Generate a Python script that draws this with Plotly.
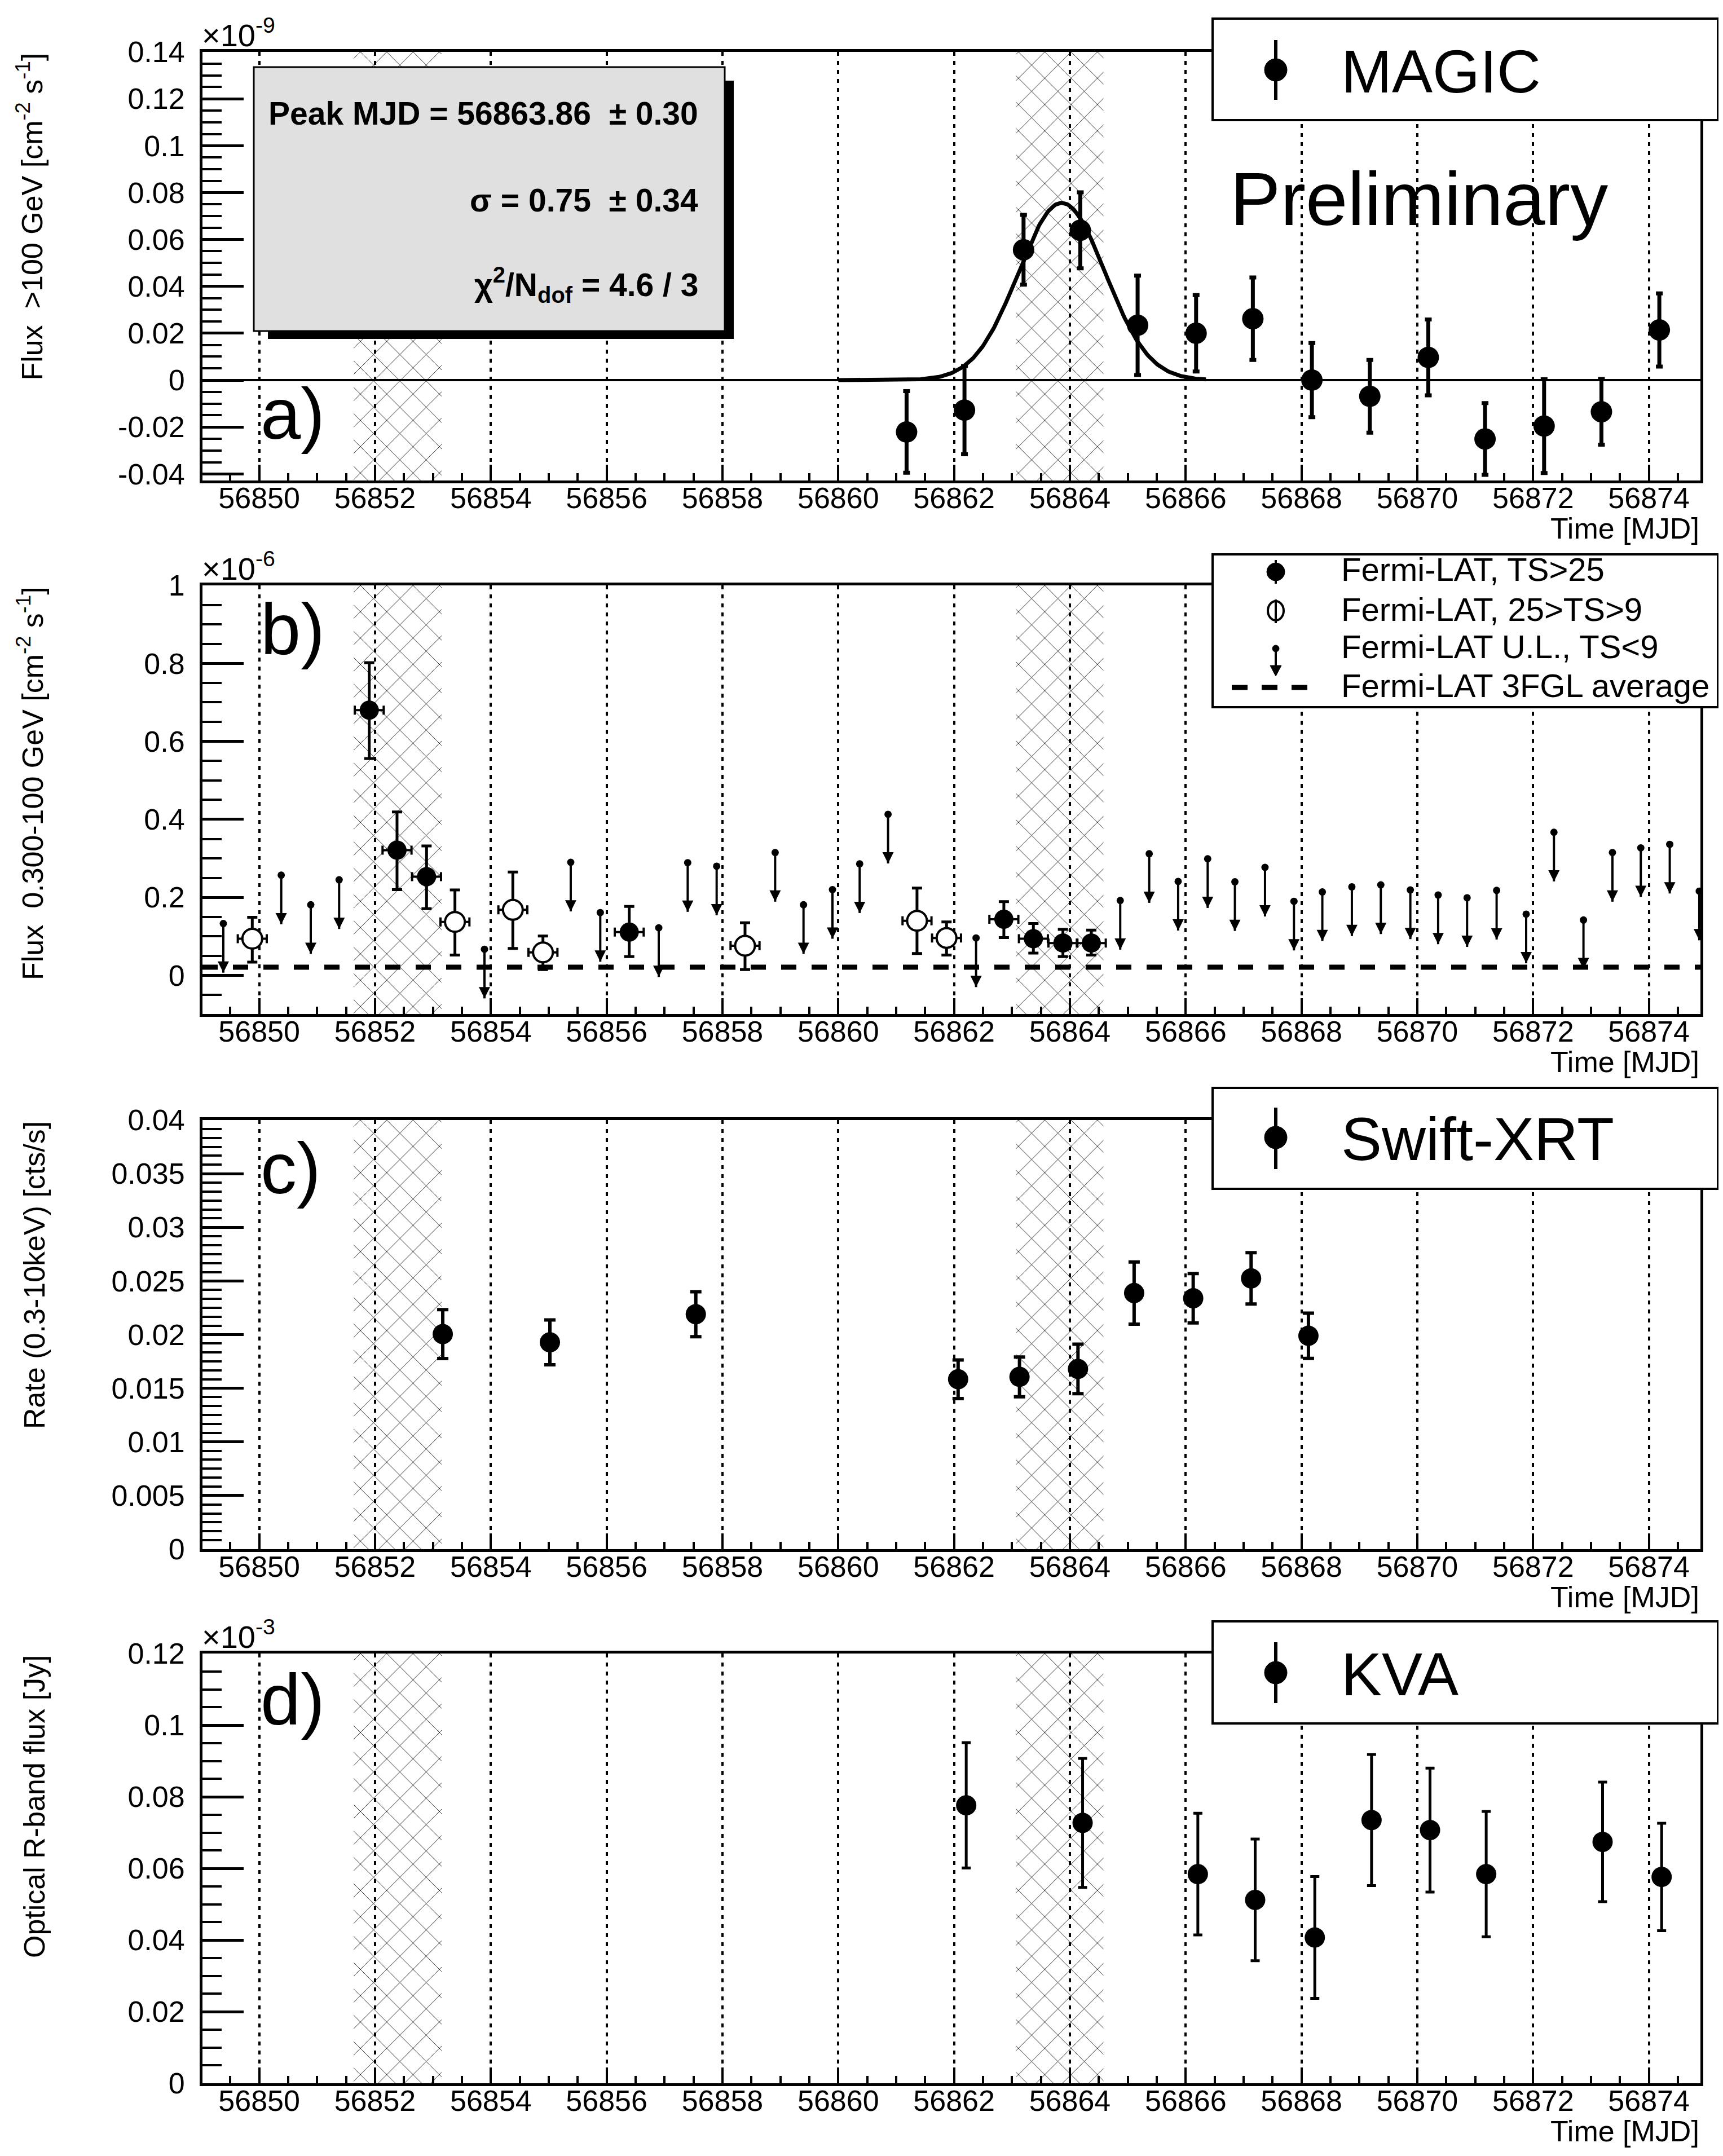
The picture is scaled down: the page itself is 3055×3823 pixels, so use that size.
import numpy as np
import plotly.graph_objects as go

W, H = 3055, 3823
FONT = "Liberation Sans, Arial, Helvetica, sans-serif"

# ---------------- data ----------------
x_range = [56849.02, 56874.89]
x_tick0, x_dtick, x_minor = 56850, 2, 0.5
hatch_bands = [[56851.63, 56853.15], [56863.07, 56864.58]]

# a) MAGIC flux >100 GeV (x 1e-9 cm^-2 s^-1)
magic_mjd = [56861.18, 56862.18, 56863.20, 56864.18, 56865.17, 56866.18, 56867.16,
             56868.18, 56869.18, 56870.19, 56871.17, 56872.19, 56873.18, 56874.18]
magic_flux = [-0.0221, -0.0128, 0.0556, 0.0639, 0.0234, 0.0200, 0.0262,
              0.0000, -0.0069, 0.0097, -0.0251, -0.0196, -0.0135, 0.0214]
magic_err = [0.0174, 0.0188, 0.0149, 0.0162, 0.0212, 0.0163, 0.0176,
             0.0158, 0.0155, 0.0162, 0.0153, 0.0200, 0.0140, 0.0156]
fit_peak, fit_sigma, fit_amp = 56863.86, 0.75, 0.0756
fit_span = [56860.0, 56866.35]

# b) Fermi-LAT flux 0.3-100 GeV (x 1e-6 cm^-2 s^-1)
fermi_halfbin = 0.25
fermi_det_mjd = [56851.90, 56852.38, 56852.89, 56856.39, 56862.86, 56863.37, 56863.88, 56864.37]
fermi_det_flux = [0.680, 0.321, 0.253, 0.111, 0.144, 0.094, 0.083, 0.083]
fermi_det_hi = [0.122, 0.098, 0.079, 0.066, 0.045, 0.039, 0.035, 0.033]
fermi_det_lo = [0.124, 0.101, 0.082, 0.063, 0.047, 0.037, 0.035, 0.031]

fermi_weak_mjd = [56849.88, 56853.38, 56854.38, 56854.90, 56858.39, 56861.36, 56861.87]
fermi_weak_flux = [0.094, 0.137, 0.168, 0.059, 0.076, 0.140, 0.096]
fermi_weak_hi = [0.055, 0.082, 0.097, 0.042, 0.059, 0.084, 0.041]
fermi_weak_lo = [0.060, 0.085, 0.099, 0.044, 0.061, 0.084, 0.044]

fermi_ul_mjd = [56849.38, 56850.38, 56850.89, 56851.38, 56853.89, 56855.38, 56855.89,
                56856.90, 56857.40, 56857.90, 56858.91, 56859.40, 56859.90, 56860.37,
                56860.86, 56862.38, 56864.87, 56865.37, 56865.87, 56866.38, 56866.85,
                56867.37, 56867.87, 56868.36, 56868.87, 56869.37, 56869.88, 56870.36,
                56870.86, 56871.37, 56871.88, 56872.36, 56872.87, 56873.37, 56873.86,
                56874.36, 56874.87]
fermi_ul = [0.133, 0.257, 0.181, 0.245, 0.067, 0.290, 0.161,
            0.122, 0.289, 0.280, 0.315, 0.181, 0.220, 0.286,
            0.413, 0.096, 0.192, 0.312, 0.241, 0.299, 0.240,
            0.277, 0.190, 0.214, 0.227, 0.232, 0.219, 0.206,
            0.199, 0.218, 0.157, 0.367, 0.142, 0.315, 0.327,
            0.336, 0.216]
ul_arrow_len = 0.126
fermi_3fgl = 0.021

# c) Swift-XRT rate 0.3-10 keV
xrt_mjd = [56853.17, 56855.02, 56857.54, 56862.07, 56863.13, 56864.14, 56865.11, 56866.13, 56867.13, 56868.12]
xrt_rate = [0.02005, 0.01928, 0.02190, 0.01584, 0.01606, 0.01680, 0.02387, 0.02339, 0.02524, 0.01989]
xrt_err = [0.00228, 0.00209, 0.00210, 0.00180, 0.00185, 0.00231, 0.00290, 0.00230, 0.00239, 0.00211]

# d) KVA optical R-band flux (x 1e-3 Jy)
kva_mjd = [56862.21, 56864.22, 56866.21, 56867.20, 56868.23, 56869.21, 56870.22, 56871.19, 56873.20, 56874.22]
kva_flux = [0.0776, 0.0727, 0.0584, 0.0512, 0.0407, 0.0735, 0.0707, 0.0584, 0.0674, 0.0576]
kva_err = [0.0175, 0.0180, 0.0170, 0.0170, 0.0170, 0.0183, 0.0173, 0.0175, 0.0167, 0.0150]

# tick labels
a_tickvals = [-0.04, -0.02, 0, 0.02, 0.04, 0.06, 0.08, 0.10, 0.12, 0.14]
a_ticktext = ['-0.04', '-0.02', '0', '0.02', '0.04', '0.06', '0.08', '0.1', '0.12', '0.14']
b_tickvals = [0, 0.2, 0.4, 0.6, 0.8, 1.0]
b_ticktext = ['0', '0.2', '0.4', '0.6', '0.8', '1']
c_tickvals = [0, 0.005, 0.01, 0.015, 0.02, 0.025, 0.03, 0.035, 0.04]
c_ticktext = ['0', '0.005', '0.01', '0.015', '0.02', '0.025', '0.03', '0.035', '0.04']
d_tickvals = [0, 0.02, 0.04, 0.06, 0.08, 0.10, 0.12]
d_ticktext = ['0', '0.02', '0.04', '0.06', '0.08', '0.1', '0.12']

# ---------------- layout geometry (pixels) ----------------
AX_L, AX_R = 351, 3007
frames = {1: (84, 844), 2: (1030, 1790), 3: (1978, 2739), 4: (2924, 3686)}
y_ranges = {1: [-0.0428, 0.14], 2: [-0.099, 1.0], 3: [0, 0.04], 4: [0, 0.12]}
y_ticks = {1: (a_tickvals, a_ticktext, 0.005), 2: (b_tickvals, b_ticktext, 0.05),
           3: (c_tickvals, c_ticktext, 0.005 / 6), 4: (d_tickvals, d_ticktext, 0.005)}


def px(xp):
    return xp / W


def py(yp):
    return 1 - yp / H


fig = go.Figure()


def axn(i):
    return ('x' if i == 1 else 'x%d' % i), ('y' if i == 1 else 'y%d' % i)


# hatched bands in every panel
for i in range(1, 5):
    xa, ya = axn(i)
    y0, y1 = y_ranges[i]
    for a, b in hatch_bands:
        fig.add_trace(go.Scatter(
            x=[a, b, b, a, a], y=[y0, y0, y1, y1, y0], xaxis=xa, yaxis=ya,
            mode='lines', line=dict(width=0, color='rgba(0,0,0,0)'),
            fill='toself', fillcolor='rgba(255,255,255,0)',
            fillpattern=dict(shape='x', size=33, solidity=0.05, fgcolor='black',
                             bgcolor='rgba(255,255,255,0)', fgopacity=1),
            hoverinfo='skip', showlegend=False))

# ---- panel a ----
fx = np.linspace(fit_span[0], fit_span[1], 300)
fy = fit_amp * np.exp(-0.5 * ((fx - fit_peak) / fit_sigma) ** 2)
fig.add_trace(go.Scatter(x=fx, y=fy, mode='lines', line=dict(color='black', width=7),
                         xaxis='x', yaxis='y', showlegend=False))
fig.add_trace(go.Scatter(x=magic_mjd, y=magic_flux, mode='markers', xaxis='x', yaxis='y',
                         marker=dict(color='black', size=38),
                         error_y=dict(type='data', array=magic_err, color='black', thickness=7, width=6),
                         showlegend=False))

# ---- panel b ----
fig.add_trace(go.Scatter(x=x_range, y=[fermi_3fgl, fermi_3fgl], mode='lines', xaxis='x2', yaxis='y2',
                         line=dict(color='black', width=9, dash='27px,27px'), showlegend=False))
fig.add_trace(go.Scatter(x=fermi_ul_mjd, y=fermi_ul, mode='markers', xaxis='x2', yaxis='y2',
                         marker=dict(color='black', size=13),
                         error_y=dict(type='data', symmetric=False, array=[0] * len(fermi_ul),
                                      arrayminus=[ul_arrow_len] * len(fermi_ul), color='black',
                                      thickness=4, width=0),
                         showlegend=False))
fig.add_trace(go.Scatter(x=fermi_ul_mjd, y=[u - ul_arrow_len for u in fermi_ul], mode='markers',
                         xaxis='x2', yaxis='y2',
                         marker=dict(color='black', size=20, symbol='arrow-down', line=dict(width=0)),
                         showlegend=False))
fig.add_trace(go.Scatter(x=fermi_weak_mjd, y=fermi_weak_flux, mode='markers', xaxis='x2', yaxis='y2',
                         marker=dict(color='white', size=35, line=dict(color='black', width=4)),
                         error_y=dict(type='data', symmetric=False, array=fermi_weak_hi,
                                      arrayminus=fermi_weak_lo, color='black', thickness=5, width=9),
                         error_x=dict(type='constant', value=fermi_halfbin, color='black', thickness=4, width=8),
                         showlegend=False))
fig.add_trace(go.Scatter(x=fermi_det_mjd, y=fermi_det_flux, mode='markers', xaxis='x2', yaxis='y2',
                         marker=dict(color='black', size=34),
                         error_y=dict(type='data', symmetric=False, array=fermi_det_hi,
                                      arrayminus=fermi_det_lo, color='black', thickness=5, width=9),
                         error_x=dict(type='constant', value=fermi_halfbin, color='black', thickness=4, width=8),
                         showlegend=False))

# ---- panel c ----
fig.add_trace(go.Scatter(x=xrt_mjd, y=xrt_rate, mode='markers', xaxis='x3', yaxis='y3',
                         marker=dict(color='black', size=36),
                         error_y=dict(type='data', array=xrt_err, color='black', thickness=6, width=10),
                         showlegend=False))

# ---- panel d ----
fig.add_trace(go.Scatter(x=kva_mjd, y=kva_flux, mode='markers', xaxis='x4', yaxis='y4',
                         marker=dict(color='black', size=36),
                         error_y=dict(type='data', array=kva_err, color='black', thickness=5, width=8),
                         showlegend=False))

# ---------------- axes ----------------
tickfont = dict(family=FONT, size=52, color='black')
for i in range(1, 5):
    top, bot = frames[i]
    xa, ya = axn(i)
    xkey = 'xaxis' if i == 1 else 'xaxis%d' % i
    ykey = 'yaxis' if i == 1 else 'yaxis%d' % i
    tv, tt, mdt = y_ticks[i]
    fig.layout[xkey] = dict(
        domain=[px(AX_L), px(AX_R)], range=x_range, anchor=ya, automargin=False,
        showline=True, linecolor='black', linewidth=5, mirror=True,
        ticks='inside', ticklen=28, tickwidth=4, tickcolor='black',
        tickmode='linear', tick0=x_tick0, dtick=x_dtick, tickformat='d',
        minor=dict(tickmode='linear', tick0=x_tick0, dtick=x_minor, ticks='inside', ticklen=13,
                   tickwidth=4, tickcolor='black', showgrid=False),
        showgrid=True, gridcolor='black', gridwidth=4, griddash='7px,9px',
        zeroline=False, tickfont=tickfont, ticklabelstandoff=-18, fixedrange=True)
    fig.layout[ykey] = dict(
        domain=[py(bot), py(top)], range=y_ranges[i], anchor=xa, automargin=False,
        showline=True, linecolor='black', linewidth=5, mirror=True,
        ticks='inside', ticklen=73, tickwidth=5, tickcolor='black',
        tickmode='array', tickvals=tv, ticktext=tt,
        minor=dict(tickmode='linear', tick0=0, dtick=mdt, ticks='inside', ticklen=34,
                   tickwidth=4, tickcolor='black', showgrid=False),
        showgrid=False, zeroline=(i == 1), zerolinecolor='black', zerolinewidth=4,
        tickfont=tickfont, ticklabelstandoff=16, fixedrange=True)

# ---------------- annotations / decorations ----------------
shapes = []
ann = []


def text(x, y, s, size, xanchor='left', yanchor='middle', angle=0, bold=False):
    ann.append(dict(x=px(x), y=py(y), xref='paper', yref='paper', text=('<b>%s</b>' % s if bold else s),
                    showarrow=False, xanchor=xanchor, yanchor=yanchor, textangle=angle,
                    font=dict(family=FONT, size=size, color='black')))


y_titles = {1: ('Flux \u00a0>100 GeV [cm<sup>-2</sup> s<sup>-1</sup>]', 46),
            2: ('Flux \u00a00.300-100 GeV [cm<sup>-2</sup> s<sup>-1</sup>]', 46),
            3: ('Rate (0.3-10keV) [cts/s]', 53),
            4: ('Optical R-band flux [Jy]', 53)}
exps = {1: '\u00d710<sup>-9</sup>', 2: '\u00d710<sup>-6</sup>', 4: '\u00d710<sup>-3</sup>'}
labels = {1: ('a)', 725), 2: ('b)', 1107), 3: ('c)', 2063), 4: ('d)', 3005)}
for i in range(1, 5):
    top, bot = frames[i]
    ttl, tx = y_titles[i]
    text(tx, top, ttl, 52, xanchor='center', yanchor='top', angle=-90)
    text(AX_R, bot + 85, 'Time [MJD]', 52, xanchor='right')
    if i in exps:
        text(AX_L - 3, top + 4, exps[i], 56, yanchor='bottom')
    lab, ly = labels[i]
    text(452, ly, lab, 128)

# stats box (panel a)
shapes.append(dict(type='rect', xref='paper', yref='paper', x0=px(467), x1=px(1293), y0=py(593), y1=py(135),
                   fillcolor='black', line=dict(width=0), layer='above'))
shapes.append(dict(type='rect', xref='paper', yref='paper', x0=px(442), x1=px(1277), y0=py(579), y1=py(111),
                   fillcolor='#e0e0e0', line=dict(color='black', width=3), layer='above'))
text(1232, 193, 'Peak MJD = 56863.86 \u00a0\u00b1 0.30', 57, xanchor='right', bold=True)
text(1232, 347, '\u03c3 = 0.75 \u00a0\u00b1 0.34', 57, xanchor='right', bold=True)
text(1232, 497, '\u03c7<sup>2</sup>/N<sub>dof</sub> = 4.6 / 3', 57, xanchor='right', bold=True)
text(2171, 344, 'Preliminary', 134)

# single-entry legends (a, c, d)
LX0, LX1, SYMX, TXTX = 2142, 3038, 2254, 2368
for (y0, y1, cy, l0, l1, name) in [(25, 205, 116, 63, 169, 'MAGIC'),
                                   (1921, 2100, 2009, 1956, 2065, 'Swift-XRT'),
                                   (2867, 3048, 2958, 2904, 3012, 'KVA')]:
    shapes.append(dict(type='rect', xref='paper', yref='paper', x0=px(LX0), x1=px(LX1), y0=py(y1), y1=py(y0),
                       fillcolor='white', line=dict(color='black', width=4), layer='above'))
    shapes.append(dict(type='line', xref='paper', yref='paper', x0=px(SYMX), x1=px(SYMX), y0=py(l1), y1=py(l0),
                       line=dict(color='black', width=6), layer='above'))
    shapes.append(dict(type='circle', xref='paper', yref='paper', x0=px(SYMX - 20), x1=px(SYMX + 20),
                       y0=py(cy + 20), y1=py(cy - 20), fillcolor='black', line=dict(color='black', width=1),
                       layer='above'))
    text(TXTX, cy + 2, name, 108)

# Fermi legend (b)
shapes.append(dict(type='rect', xref='paper', yref='paper', x0=px(LX0), x1=px(LX1), y0=py(1246), y1=py(975),
                   fillcolor='white', line=dict(color='black', width=4), layer='above'))
shapes.append(dict(type='line', xref='paper', yref='paper', x0=px(SYMX), x1=px(SYMX), y0=py(1027), y1=py(985),
                   line=dict(color='black', width=4), layer='above'))
shapes.append(dict(type='circle', xref='paper', yref='paper', x0=px(SYMX - 16), x1=px(SYMX + 16),
                   y0=py(1006 + 16), y1=py(1006 - 16), fillcolor='black', line=dict(color='black', width=1),
                   layer='above'))
shapes.append(dict(type='circle', xref='paper', yref='paper', x0=px(SYMX - 14), x1=px(SYMX + 14),
                   y0=py(1075 + 17), y1=py(1075 - 17), fillcolor='white', line=dict(color='black', width=4),
                   layer='above'))
shapes.append(dict(type='line', xref='paper', yref='paper', x0=px(SYMX), x1=px(SYMX), y0=py(1097), y1=py(1055),
                   line=dict(color='black', width=4), layer='above'))
shapes.append(dict(type='circle', xref='paper', yref='paper', x0=px(SYMX - 6), x1=px(SYMX + 6),
                   y0=py(1142 + 6), y1=py(1142 - 6), fillcolor='black', line=dict(color='black', width=1),
                   layer='above'))
shapes.append(dict(type='line', xref='paper', yref='paper', x0=px(SYMX), x1=px(SYMX), y0=py(1178), y1=py(1142),
                   line=dict(color='black', width=4), layer='above'))
shapes.append(dict(type='path', xref='paper', yref='paper',
                   path='M %f,%f L %f,%f L %f,%f Z' % (px(SYMX - 10), py(1172), px(SYMX + 10), py(1172),
                                                      px(SYMX), py(1191)),
                   fillcolor='black', line=dict(color='black', width=1), layer='above'))
shapes.append(dict(type='line', xref='paper', yref='paper', x0=px(2176), x1=px(2312), y0=py(1211), y1=py(1211),
                   line=dict(color='black', width=9, dash='28px,25px'), layer='above'))
text(TXTX, 1002, 'Fermi-LAT, TS>25', 58)
text(TXTX, 1072, 'Fermi-LAT, 25>TS>9', 58)
text(TXTX, 1138, 'Fermi-LAT U.L., TS<9', 58)
text(TXTX, 1207, 'Fermi-LAT 3FGL average', 58)

for a in ann:
    fig.add_annotation(**a)
fig.update_layout(shapes=shapes, width=W, height=H, margin=dict(l=0, r=0, t=0, b=0),
                  paper_bgcolor='white', plot_bgcolor='white', showlegend=False,
                  font=dict(family=FONT, color='black'))

fig.write_html("out.html")
